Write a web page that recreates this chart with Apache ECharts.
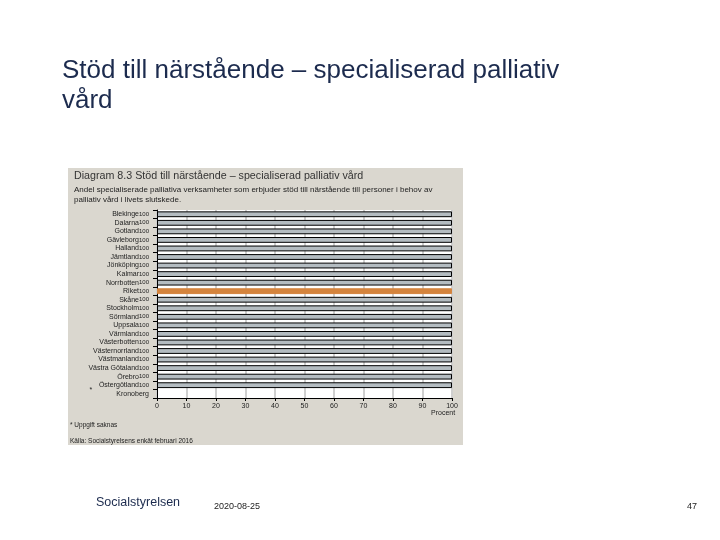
<!DOCTYPE html>
<html>
<head>
<meta charset="utf-8">
<script src="https://cdn.jsdelivr.net/npm/echarts@6/dist/echarts.min.js"></script>
<style>html,body{margin:0;padding:0;background:#fff;}#c{width:720px;height:540px;}</style>
</head>
<body>
<div id="c"></div>
<script>
var categories = ['Blekinge','Dalarna','Gotland','Gävleborg','Halland','Jämtland','Jönköping','Kalmar','Norrbotten','Riket','Skåne','Stockholm','Sörmland','Uppsala','Värmland','Västerbotten','Västernorrland','Västmanland','Västra Götaland','Örebro','Östergötland','Kronoberg'];
var values = [100,100,100,100,100,100,100,100,100,100,100,100,100,100,100,100,100,100,100,100,100,null];
var missing = ['Kronoberg'];
var highlight = 'Riket';
var xTicks = [0,10,20,30,40,50,60,70,80,90,100];

var chart = echarts.init(document.getElementById('c'));
var font = 'Liberation Sans, Arial, sans-serif';
var navy = '#1c2b4e';

var barData = categories.map(function (c, i) {
  return {
    value: values[i],
    itemStyle: c === highlight ? { color: '#d4843e', borderColor: '#d4843e' } : {}
  };
});

chart.setOption({
  backgroundColor: '#ffffff',
  animation: false,
  textStyle: { fontFamily: font },
  graphic: [
    { type: 'rect', z: -10, shape: { x: 68, y: 168, width: 395, height: 277 }, style: { fill: '#dad7cf' } },
    { type: 'text', left: 62, top: 56, style: { text: 'Stöd till närstående – specialiserad palliativ\nvård', font: '26px ' + font, fill: navy, lineHeight: 30 } },
    { type: 'text', left: 74, top: 171, style: { text: 'Diagram 8.3 Stöd till närstående – specialiserad palliativ vård', font: '10.7px ' + font, fill: '#333' } },
    { type: 'text', left: 74, top: 185, style: { text: 'Andel specialiserade palliativa verksamheter som erbjuder stöd till närstående till personer i behov av\npalliativ vård i livets slutskede.', font: '8px ' + font, fill: '#222', lineHeight: 10 } },
    { type: 'text', left: 431, top: 410, style: { text: 'Procent', font: '7px ' + font, fill: '#222' } },
    { type: 'text', left: 70, top: 422, style: { text: '* Uppgift saknas', font: '6.5px ' + font, fill: '#222' } },
    { type: 'text', left: 70, top: 438, style: { text: 'Källa: Socialstyrelsens enkät februari 2016', font: '6.5px ' + font, fill: '#222' } },
    { type: 'text', left: 96, top: 496, style: { text: 'Socialstyrelsen', font: '12.5px ' + font, fill: navy } },
    { type: 'text', left: 214, top: 502, style: { text: '2020-08-25', font: '9px ' + font, fill: '#222' } },
    { type: 'text', left: 687, top: 502, style: { text: '47', font: '9px ' + font, fill: '#222' } }
  ],
  grid: { left: 157, right: 268, top: 210, bottom: 142, show: true, backgroundColor: '#ffffff', borderWidth: 0 },
  xAxis: {
    type: 'value', min: 0, max: 100, interval: 10,
    axisLine: { show: true, lineStyle: { color: '#000', width: 1 } },
    axisTick: { show: true, length: 3, lineStyle: { color: '#000' } },
    axisLabel: { fontSize: 7, color: '#222', margin: 5, fontFamily: font },
    splitLine: { show: true, lineStyle: { color: '#cfcfcf', width: 2 } }
  },
  yAxis: {
    type: 'category', inverse: true, data: categories,
    axisLine: { show: true, lineStyle: { color: '#000', width: 1 } },
    axisTick: { show: true, length: 4, lineStyle: { color: '#000' } },
    axisLabel: {
      interval: 0, margin: 8, fontFamily: font, fontSize: 7, color: '#222',
      formatter: function (v, i) {
        var idx = categories.indexOf(v);
        if (missing.indexOf(v) >= 0) return '{ast|*}{n|' + v + '}';
        return '{n|' + v + '}{v|' + values[idx] + '}';
      },
      rich: {
        n: { fontSize: 7, color: '#222', fontFamily: font },
        v: { fontSize: 6, color: '#222', fontFamily: font },
        ast: { fontSize: 7, color: '#222', fontFamily: font, padding: [0, 24, 8, 0] }
      }
    }
  },
  series: [{
    type: 'bar',
    data: barData,
    barWidth: '68%',
    itemStyle: { color: '#b4bcc1', borderColor: '#000', borderWidth: 1 }
  }]
});
</script>
</body>
</html>
